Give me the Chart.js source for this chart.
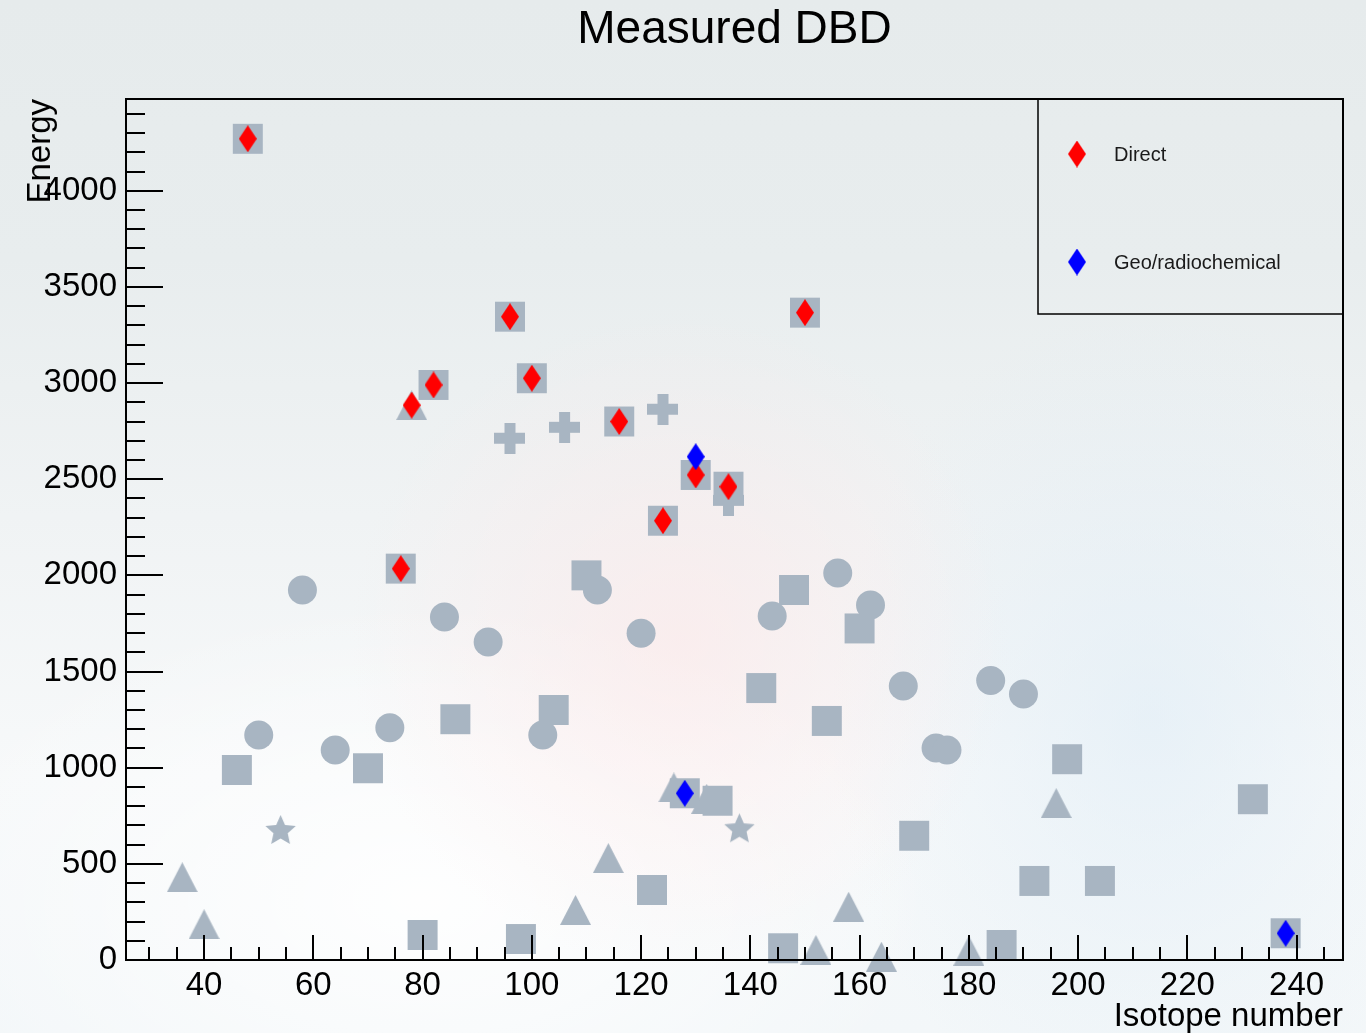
<!DOCTYPE html>
<html>
<head>
<meta charset="utf-8">
<title>Measured DBD</title>
<script src="https://cdn.jsdelivr.net/npm/chart.js@4.4.1/dist/chart.umd.min.js"></script>
<style>
  html, body { margin: 0; padding: 0; }
  body {
    width: 1366px;
    height: 1033px;
    overflow: hidden;
    background:
      radial-gradient(ellipse 330px 330px at 680px 640px, rgba(255, 230, 230, 0.55), rgba(255, 240, 240, 0) 100%),
      radial-gradient(ellipse 520px 300px at 420px 900px, rgba(255, 255, 255, 0.9), rgba(255, 255, 255, 0) 100%),
      radial-gradient(ellipse 320px 420px at 1150px 720px, rgba(222, 236, 246, 0.6), rgba(222, 236, 246, 0) 100%),
      linear-gradient(to bottom, #e6ebec 0%, #e8edee 25%, #f0f3f4 50%, #f7f9fa 75%, #f3f7f9 100%);
  }
  #wrap { position: absolute; left: 0; top: 0; width: 1366px; height: 1033px; }
</style>
</head>
<body>
<div id="wrap"><canvas id="dbd_chart" width="1366" height="1033"></canvas></div>
<script>
// double beta candidates, isotope number vs energy (keV)
var directX = [48, 76, 78, 82, 96, 100, 116, 124, 130, 136, 150];
var directY = [4270, 2035, 2885, 2990, 3345, 3025, 2800, 2284, 2522, 2461, 3366];

var geoX = [128, 130, 238];
var geoY = [867, 2617, 139];

// grey background markers, one list per marker shape
var squareX = [46, 48, 70, 76, 80, 82, 86, 96, 98, 100, 104, 110, 116, 122, 124, 128,
               130, 134, 136, 142, 146, 148, 150, 154, 160, 170, 186, 192, 198, 204, 232, 238];
var squareY = [988, 4270, 997, 2035, 130, 2990, 1252, 3345, 109, 3025, 1300, 2000, 2800, 364, 2284, 867,
               2522, 828, 2461, 1414, 61, 1924, 3366, 1243, 1724, 646, 78, 411, 1044, 411, 836, 139];

var circleX = [50, 58, 64, 74, 84, 92, 102, 112, 120, 144, 156, 162, 168, 174, 176, 184, 190];
var circleY = [1170, 1924, 1092, 1208, 1784, 1654, 1170, 1924, 1699, 1789, 2012, 1846, 1425, 1102, 1092, 1453, 1383];

var triangleX = [36, 40, 78, 108, 114, 126, 132, 152, 158, 164, 180, 196];
var triangleY = [430, 186, 2885, 260, 530, 897, 838, 52, 277, 17, 48, 816];

var crossX = [96, 106, 124, 136];
var crossY = [2713, 2770, 2864, 2390];

var starX = [54, 138];
var starY = [676, 685];

var xTicks = [40, 60, 80, 100, 120, 140, 160, 180, 200, 220, 240];
var yTicks = [0, 500, 1000, 1500, 2000, 2500, 3000, 3500, 4000];

var FONT = "'Liberation Sans', Arial, Helvetica, sans-serif";
var GREY = "rgb(168,181,194)";

function pts(xs, ys) {
  return xs.map(function (x, i) { return { x: x, y: ys[i] }; });
}

// small canvases used as point styles
function marker(w, h, color, path) {
  var c = document.createElement("canvas");
  c.width = w;
  c.height = h;
  var g = c.getContext("2d");
  g.fillStyle = color;
  g.beginPath();
  path(g, w, h);
  g.fill();
  return c;
}

function diamond(g, w, h) {
  g.moveTo(w / 2, 0); g.lineTo(w, h / 2); g.lineTo(w / 2, h); g.lineTo(0, h / 2);
  g.closePath();
}
function triangle(g, w, h) {
  g.moveTo(w / 2, 0); g.lineTo(w, h); g.lineTo(0, h);
  g.closePath();
}
function plus(g, w, h) {
  var t = 11;
  g.rect((w - t) / 2, 0, t, h);
  g.rect(0, (h - t) / 2, w, t);
}
function star(g, w, h) {
  var cx = w / 2, cy = h / 2 + 1, R = 16, r = 7.5;
  for (var i = 0; i < 10; i++) {
    var a = -Math.PI / 2 + i * Math.PI / 5;
    var rr = i % 2 === 0 ? R : r;
    g.lineTo(cx + rr * Math.cos(a), cy + rr * Math.sin(a));
  }
  g.closePath();
}

var redDiamond = marker(18, 27, "#ff0000", diamond);
var blueDiamond = marker(18, 27, "#0000ff", diamond);
var greyTriangle = marker(31, 30, GREY, triangle);
var greyCross = marker(31, 31, GREY, plus);
var greyStar = marker(33, 32, GREY, star);

var rootFrame = {
  id: "rootFrame",
  afterDatasetsDraw: function (chart) {
    var ctx = chart.ctx, a = chart.chartArea;
    var xs = chart.scales.x, ys = chart.scales.y;
    var v, p, len;
    ctx.save();
    ctx.strokeStyle = "#000";
    ctx.lineWidth = 2;
    ctx.strokeRect(a.left, a.top, a.right - a.left, a.bottom - a.top);

    ctx.beginPath();
    for (v = 30; v <= 245; v += 5) {
      p = Math.round(xs.getPixelForValue(v));
      len = v % 20 === 0 ? 25 : 13;
      ctx.moveTo(p, a.bottom);
      ctx.lineTo(p, a.bottom - len);
    }
    for (v = 0; v <= 4400; v += 100) {
      p = Math.round(ys.getPixelForValue(v));
      len = v % 500 === 0 ? 37 : 19;
      ctx.moveTo(a.left, p);
      ctx.lineTo(a.left + len, p);
    }
    ctx.stroke();

    // legend box in the top right corner of the frame
    var bx = a.right - 305, by = a.top, bw = 305, bh = 215;
    ctx.lineWidth = 1.5;
    ctx.strokeRect(bx, by, bw, bh);
    ctx.font = "20px " + FONT;
    ctx.fillStyle = "#1a1a1a";
    ctx.textBaseline = "middle";
    ctx.textAlign = "left";
    var rows = ["Direct", "Geo/radiochemical"];
    rows.forEach(function (label, i) {
      var ds = chart.data.datasets.filter(function (d) { return d.label === label; })[0];
      var img = ds.pointStyle;
      var ry = by + 55 + i * 108;
      ctx.drawImage(img, bx + 39 - img.width / 2, ry - img.height / 2);
      ctx.fillText(label, bx + 76, ry + 1);
    });
    ctx.restore();
  }
};

var ctx = document.getElementById("dbd_chart").getContext("2d");
var myChart = new Chart(ctx, {
  type: "scatter",
  data: {
    datasets: [
      { label: "Geo/radiochemical", data: pts(geoX, geoY), pointStyle: blueDiamond, pointRadius: 13, order: 0 },
      { label: "Direct", data: pts(directX, directY), pointStyle: redDiamond, pointRadius: 13, order: 1 },
      { label: "squares", data: pts(squareX, squareY), pointStyle: "rect", pointRadius: 21.2,
        backgroundColor: GREY, borderWidth: 0, order: 2 },
      { label: "circles", data: pts(circleX, circleY), pointStyle: "circle", pointRadius: 14.5,
        backgroundColor: GREY, borderWidth: 0, order: 3 },
      { label: "triangles", data: pts(triangleX, triangleY), pointStyle: greyTriangle, pointRadius: 15, order: 4 },
      { label: "crosses", data: pts(crossX, crossY), pointStyle: greyCross, pointRadius: 15, order: 5 },
      { label: "stars", data: pts(starX, starY), pointStyle: greyStar, pointRadius: 15, order: 6 },
    ],
  },
  options: {
    responsive: false,
    animation: false,
    events: [],
    clip: false,
    layout: { padding: { left: 0, right: 23, top: 0, bottom: 0 } },
    plugins: {
      legend: { display: false },
      tooltip: { enabled: false },
      title: {
        display: true,
        fullSize: false,
        text: "Measured DBD",
        color: "#000",
        font: { family: FONT, size: 46, weight: "normal", lineHeight: 1.2 },
        padding: { top: 3, bottom: 40.8 },
      },
    },
    scales: {
      x: {
        type: "linear",
        min: 25.7,
        max: 248.5,
        afterBuildTicks: function (s) { s.ticks = xTicks.map(function (v) { return { value: v }; }); },
        afterFit: function (s) { s.height = 73; },
        grid: { display: false, drawTicks: false },
        border: { display: false },
        ticks: {
          color: "#000",
          padding: 6,
          maxRotation: 0,
          autoSkip: false,
          font: { family: FONT, size: 33, lineHeight: 1.2 },
          callback: function (v) { return String(v); },
        },
        title: {
          display: true,
          text: "Isotope number",
          align: "end",
          color: "#000",
          font: { family: FONT, size: 33, lineHeight: 1 },
          padding: { top: 0, bottom: 0 },
        },
      },
      y: {
        type: "linear",
        min: 0,
        max: 4477,
        afterBuildTicks: function (s) { s.ticks = yTicks.map(function (v) { return { value: v }; }); },
        afterFit: function (s) { s.width = 126; },
        grid: { display: false, drawTicks: false },
        border: { display: false },
        ticks: {
          color: "#000",
          padding: 9,
          autoSkip: false,
          font: { family: FONT, size: 33, lineHeight: 1.2 },
          callback: function (v) { return String(v); },
        },
        title: {
          display: true,
          text: "Energy",
          align: "end",
          color: "#000",
          font: { family: FONT, size: 33, lineHeight: 1 },
          padding: { top: 24, bottom: 0 },
        },
      },
    },
  },
  plugins: [rootFrame],
});
</script>
</body>
</html>
